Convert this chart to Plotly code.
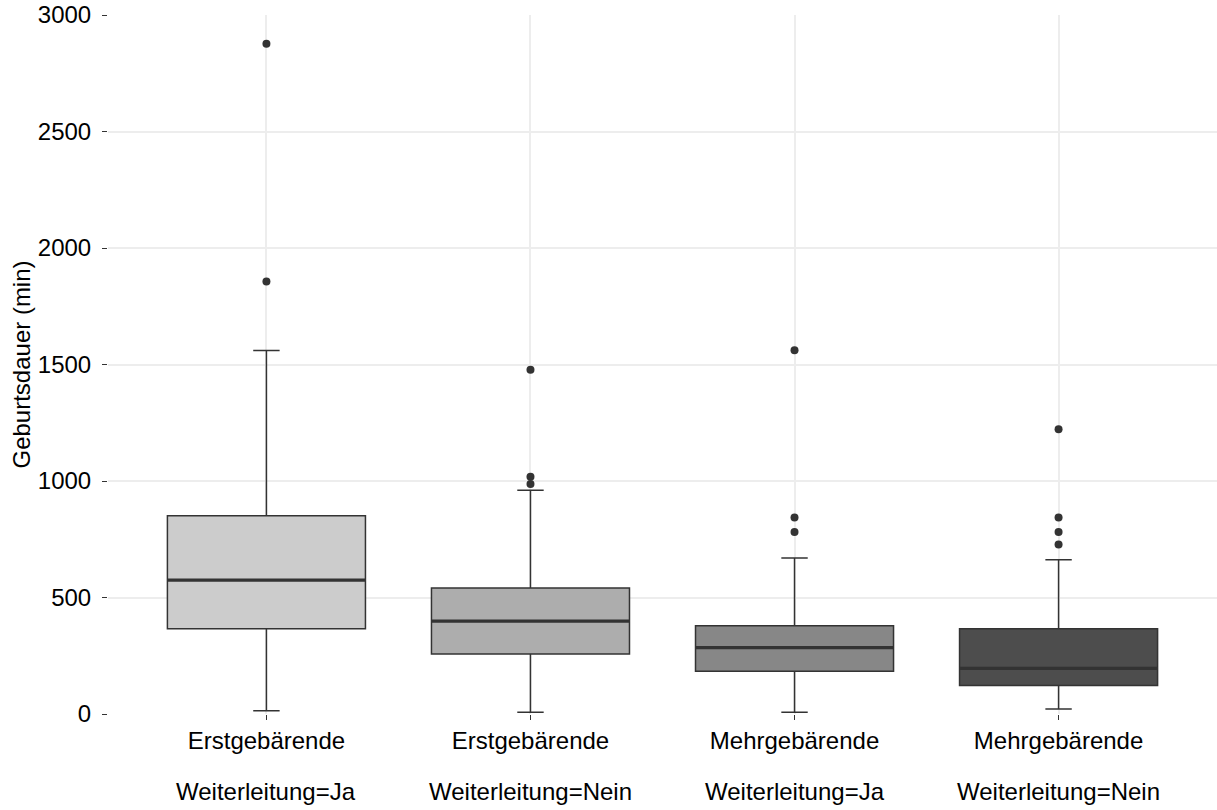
import plotly.graph_objects as go

# Group labels (two rows on the x axis)
parity = ["Erstgebärende", "Erstgebärende", "Mehrgebärende", "Mehrgebärende"]
referral = ["Weiterleitung=Ja", "Weiterleitung=Nein", "Weiterleitung=Ja", "Weiterleitung=Nein"]

# Box statistics for labour duration (minutes)
q1 = [366, 257, 183, 122]
median = [575, 399, 285, 196]
q3 = [851, 541, 379, 366]
lower_whisker = [14, 7, 7, 21]
upper_whisker = [1560, 960, 670, 662]
outliers = [
    [1856, 2877],
    [987, 1018, 1478],
    [781, 843, 1561],
    [728, 781, 843, 1222],
]

fills = ["#CCCCCC", "#ADADAD", "#878787", "#4D4D4D"]
y_ticks = [0, 500, 1000, 1500, 2000, 2500, 3000]

positions = [1, 2, 3, 4]
box_w = 0.75
cap_w = 0.1
edge = "#333333"
grid = "#EDEDED"
font_family = "Arial, Liberation Sans, sans-serif"

fig = go.Figure()

for i, pos in enumerate(positions):
    fig.add_trace(go.Box(
        x=[pos], q1=[q1[i]], median=[median[i]], q3=[q3[i]],
        lowerfence=[lower_whisker[i]], upperfence=[upper_whisker[i]],
        width=box_w, whiskerwidth=cap_w / box_w, fillcolor=fills[i],
        line=dict(color=edge, width=1.5),
        boxpoints=False, showlegend=False, hoverinfo="skip",
    ))

# Thicker median bars
med_x, med_y = [], []
for i, pos in enumerate(positions):
    med_x += [pos - box_w / 2, pos + box_w / 2, None]
    med_y += [median[i], median[i], None]

fig.add_trace(go.Scatter(x=med_x, y=med_y, mode="lines",
                         line=dict(color=edge, width=3.2),
                         showlegend=False, hoverinfo="skip"))

# Outlying observations
ox, oy = [], []
for i, pos in enumerate(positions):
    for v in outliers[i]:
        ox.append(pos)
        oy.append(v)
fig.add_trace(go.Scatter(x=ox, y=oy, mode="markers",
                         marker=dict(color=edge, size=8),
                         showlegend=False, hoverinfo="skip"))

# Second row of category labels
for i, pos in enumerate(positions):
    fig.add_annotation(x=pos, xref="x", y=-0.088, yref="paper",
                       yanchor="top", text=referral[i], showarrow=False,
                       font=dict(family=font_family, size=24, color="black"))

fig.update_layout(
    width=1217, height=810,
    margin=dict(l=108, r=0, t=15, b=96),
    paper_bgcolor="white", plot_bgcolor="white",
    font=dict(family=font_family, size=24, color="black"),
    xaxis=dict(
        range=[0.4, 4.6], tickmode="array", tickvals=positions, ticktext=parity,
        showgrid=True, gridcolor=grid, gridwidth=2, zeroline=False,
        ticks="outside", ticklen=5, tickcolor=edge, tickwidth=1,
        tickfont=dict(size=24, color="black"), showline=False,
    ),
    yaxis=dict(
        range=[0, 3000], tickmode="array", tickvals=y_ticks,
        showgrid=True, gridcolor=grid, gridwidth=2, zeroline=False,
        ticks="outside", ticklen=5, tickcolor=edge, tickwidth=1,
        ticklabelstandoff=6,
        tickfont=dict(size=24, color="black"), showline=False,
        title=dict(text="Geburtsdauer (min)", font=dict(size=24, color="black"),
                   standoff=0),
    ),
)

fig.write_html("out.html")
